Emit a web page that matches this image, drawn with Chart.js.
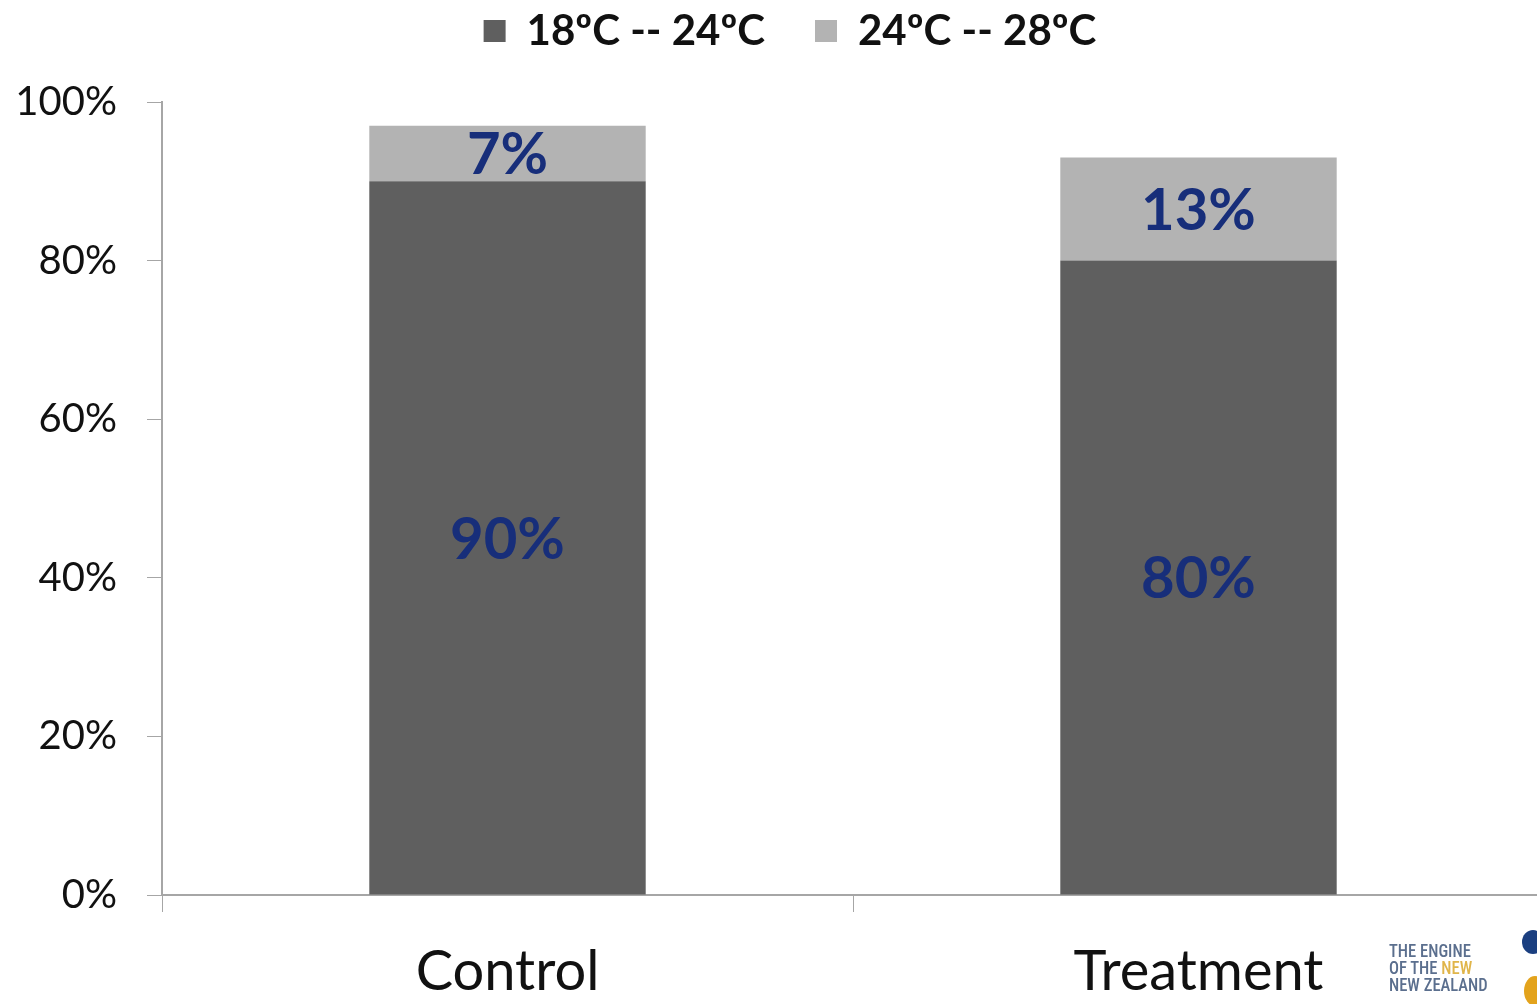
<!DOCTYPE html>
<html>
<head>
<meta charset="utf-8">
<script src="https://cdn.jsdelivr.net/npm/chart.js@4"></script>
<style>
  html, body { margin: 0; padding: 0; background: #fff; overflow: hidden; }
  #wrap { position: relative; width: 1580px; height: 1004px; }
  .logo { position: absolute; left: 1389px; top: 942px; font-family: "Roboto Condensed", "Liberation Sans Narrow", "Roboto", sans-serif; font-size: 18px; line-height: 17px; color: #5b6f8e; font-weight: 500; transform: scaleX(0.92); transform-origin: left top; }
  .logo span { color: #e0b54a; }
  .dot1 { position: absolute; left: 1522px; top: 930px; width: 22px; height: 24px; border-radius: 50%; background: #1b3f80; }
  .dot2 { position: absolute; left: 1524px; top: 976px; width: 22px; height: 30px; border-radius: 50%; background: #e3a31c; }
</style>
</head>
<body>
<div id="wrap">
  <canvas id="chart" width="1580" height="1004"></canvas>
  <div class="logo">THE ENGINE<br>OF THE <span>NEW</span><br>NEW ZEALAND</div>
  <div class="dot1"></div>
  <div class="dot2"></div>
</div>
<script>
// Données du graphique
const categories = ["Control", "Treatment"];
const serieBasse = [90, 80];   // 18ºC -- 24ºC
const serieHaute = [7, 13];    // 24ºC -- 28ºC
const nomsSeries = ["18ºC -- 24ºC", "24ºC -- 28ºC"];
const ticksY = [0, 20, 40, 60, 80, 100];

const police = "Lato, 'Open Sans', sans-serif";

// Étiquettes au centre de chaque segment
const etiquettesPlugin = {
  id: "etiquettes",
  afterDatasetsDraw(chart) {
    const ctx = chart.ctx;
    ctx.save();
    ctx.fillStyle = "#172e7a";
    ctx.font = "bold 58px " + police;
    ctx.textAlign = "center";
    ctx.textBaseline = "middle";
    chart.data.datasets.forEach((ds, i) => {
      chart.getDatasetMeta(i).data.forEach((bar, j) => {
        const y = (bar.y + bar.base) / 2;
        ctx.fillText(ds.data[j] + "%", bar.x, y + 2);
      });
    });
    ctx.restore();
  }
};

// Place de la légende : hauteur fixe, légèrement décalée
const espaceLegende = {
  id: "espaceLegende",
  beforeInit(chart) {
    const legende = chart.legend;
    if (!legende) return;
    const fit = legende.fit;
    legende.fit = function () {
      fit.call(this);
      this.height = 102;
    };
  },
  afterLayout(chart) {
    const legende = chart.legend;
    if (!legende) return;
    legende.left += 18;
    legende.right += 18;
    legende.top -= 40;
  }
};

new Chart(document.getElementById("chart"), {
  type: "bar",
  data: {
    labels: categories,
    datasets: [
      { label: nomsSeries[0], data: serieBasse, backgroundColor: "#5f5f5f", barPercentage: 0.4, categoryPercentage: 1 },
      { label: nomsSeries[1], data: serieHaute, backgroundColor: "#b3b3b3", barPercentage: 0.4, categoryPercentage: 1 }
    ]
  },
  options: {
    responsive: false,
    animation: false,
    layout: { padding: { left: 0, right: 36, top: 0, bottom: 0 } },
    plugins: {
      legend: {
        position: "top",
        labels: {
          color: "#111",
          font: { family: police, size: 42, weight: "bold" },
          boxWidth: 22,
          boxHeight: 22,
          padding: 50
        }
      },
      tooltip: { enabled: false }
    },
    scales: {
      x: {
        stacked: true,
        grid: { drawOnChartArea: false, drawTicks: true, tickLength: 17, color: "#a6a6a6", offset: true },
        border: { color: "#a6a6a6", width: 2 },
        ticks: { color: "#111", font: { family: police, size: 56 }, padding: 26 },
        afterFit(s) { s.height = 109; }
      },
      y: {
        stacked: true,
        min: 0,
        max: 100,
        afterBuildTicks(s) { s.ticks = ticksY.map(v => ({ value: v })); },
        grid: { drawOnChartArea: false, drawTicks: true, tickLength: 15, color: "#a6a6a6" },
        border: { color: "#a6a6a6", width: 2 },
        ticks: {
          color: "#111",
          font: { family: police, size: 40 },
          padding: 30,
          callback: v => v + "%"
        },
        afterFit(s) { s.width = 162; }
      }
    }
  },
  plugins: [etiquettesPlugin, espaceLegende]
});
</script>
</body>
</html>
